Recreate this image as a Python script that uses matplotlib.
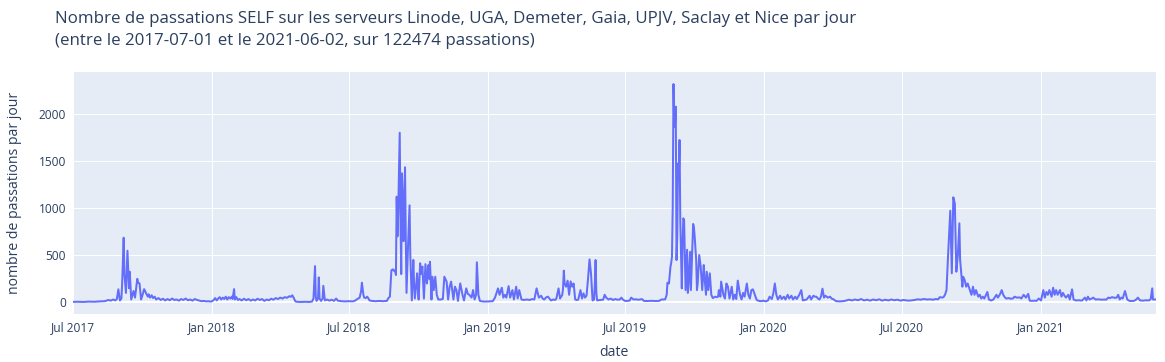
import pandas as pd
import matplotlib
matplotlib.use("Agg")
import matplotlib.pyplot as plt
import matplotlib.dates as mdates

debut = pd.Timestamp("2017-07-01")
fin = pd.Timestamp("2021-06-02")

titre_1 = "Nombre de passations SELF sur les serveurs Linode, UGA, Demeter, Gaia, UPJV, Saclay et Nice par jour"
titre_2 = "(entre le 2017-07-01 et le 2021-06-02, sur 122474 passations)"

# (jours depuis le 2017-07-01, passations)
points_2017_18 = [
    (0, 5), (7, 6), (14, 4), (21, 8), (28, 6), (35, 10), (42, 12), (47, 25), (50, 18),
    (53, 30), (56, 20), (58, 35), (60, 138), (62, 20), (64, 40), (65, 200), (67, 686),
    (68, 300), (70, 100), (72, 548), (74, 150), (75, 325), (77, 30), (78, 60), (80, 120),
    (82, 50), (85, 250), (86, 210), (88, 200), (90, 30), (92, 80), (94, 140), (95, 125),
    (97, 90), (99, 60), (100, 85), (102, 50), (104, 75), (106, 45), (108, 60), (110, 30),
    (113, 45), (116, 25), (119, 38), (122, 20), (125, 35), (128, 22), (131, 40), (134, 25),
    (137, 30), (140, 18), (143, 35), (146, 25), (149, 40), (152, 22), (155, 30), (158, 18),
    (161, 35), (164, 25), (167, 18), (170, 12), (173, 15), (176, 10), (179, 12), (182, 8),
    (184, 12), (186, 25), (188, 45), (190, 20), (192, 40), (194, 55), (196, 30), (198, 50),
    (200, 35), (202, 60), (204, 30), (206, 55), (208, 40), (210, 60), (211, 35), (213, 140),
    (214, 30), (216, 55), (218, 25), (220, 35), (223, 20), (226, 38), (229, 22), (232, 35),
    (235, 18), (238, 30), (241, 20), (244, 38), (247, 25), (250, 35), (253, 15), (256, 30),
    (259, 22), (262, 38), (265, 28), (268, 45), (271, 35), (274, 50), (277, 40), (280, 55),
    (283, 48), (286, 65), (288, 58), (290, 75), (292, 45), (294, 10), (297, 5), (302, 4),
    (307, 6), (312, 4), (316, 8), (318, 40), (320, 385), (321, 60), (322, 15), (324, 40),
    (325, 265), (326, 40), (328, 15), (330, 40), (331, 175), (333, 20), (336, 30), (339, 18),
    (342, 28), (345, 15), (348, 40),
]

points_2018_19 = [
    (350, 18), (355, 12), (360, 10), (365, 12), (370, 10), (373, 18), (376, 35), (379, 50),
    (381, 120), (382, 208), (384, 80), (385, 50), (387, 45), (389, 60), (390, 50), (392, 20),
    (395, 15), (400, 12), (405, 15), (410, 12), (415, 15), (417, 45), (419, 60), (421, 340),
    (423, 350), (425, 330), (426, 340), (427, 290), (428, 1122), (429, 700), (430, 950),
    (432, 1801), (433, 900), (434, 300), (435, 1370), (436, 1100), (437, 650), (438, 1000),
    (439, 1434), (440, 700), (441, 100), (443, 600), (445, 1030), (446, 500), (448, 20),
    (450, 450), (451, 200), (452, 40), (454, 200), (455, 308), (456, 150), (457, 30),
    (459, 415), (460, 300), (462, 380), (463, 200), (464, 40), (466, 405), (467, 300),
    (468, 200), (470, 395), (471, 250), (472, 430), (474, 30), (475, 272), (477, 130),
    (479, 272), (481, 80), (483, 30), (486, 30), (489, 35), (491, 272), (494, 220), (496, 30),
    (498, 166), (500, 220), (503, 30), (505, 166), (507, 130), (509, 15), (512, 201),
    (515, 80), (517, 20), (520, 148), (522, 90), (524, 80), (527, 50), (529, 130), (531, 30),
    (533, 80), (534, 425), (536, 80), (538, 15), (541, 10), (545, 8), (550, 10), (555, 12),
    (558, 50), (562, 148), (564, 80), (567, 155), (569, 50), (571, 80), (573, 50), (576, 172),
    (578, 50), (581, 130), (583, 30), (586, 166), (588, 40), (590, 130), (593, 30), (596, 25),
    (600, 30), (604, 25), (607, 35), (610, 30), (613, 148), (616, 50), (619, 70), (621, 40),
    (623, 30), (626, 55), (628, 60), (632, 20), (635, 30), (637, 25), (639, 35), (642, 148),
    (644, 40), (647, 80), (648, 150), (649, 336), (650, 200), (652, 166), (654, 230),
    (656, 80), (658, 222), (660, 166), (662, 200), (664, 30), (666, 25), (668, 28), (671, 130),
    (673, 40), (675, 95), (677, 50), (679, 70), (681, 250), (683, 456), (685, 300), (687, 20),
    (689, 30), (690, 200), (691, 449), (692, 100), (693, 20), (697, 25), (701, 28), (703, 80),
    (705, 50), (708, 30), (711, 40), (714, 25), (717, 35), (720, 28), (723, 30), (725, 50),
    (727, 30), (730, 15),
]

points_2019_20 = [
    (733, 15), (736, 18), (738, 50), (741, 30), (744, 32), (747, 28), (750, 30), (752, 35),
    (755, 15), (760, 14), (765, 16), (770, 14), (775, 15), (778, 30), (781, 30), (783, 32),
    (785, 80), (786, 208), (788, 200), (790, 378), (791, 420), (792, 484), (793, 1015),
    (794, 2318), (795, 1865), (796, 1900), (797, 2078), (798, 449), (799, 700), (800, 1476),
    (801, 1300), (802, 1724), (803, 868), (805, 148), (806, 600), (807, 892), (808, 875),
    (810, 130), (812, 558), (813, 100), (814, 200), (816, 537), (817, 130), (819, 600),
    (820, 832), (821, 797), (822, 700), (824, 450), (825, 130), (826, 200), (828, 502),
    (830, 378), (832, 130), (834, 396), (835, 272), (837, 80), (838, 325), (840, 130),
    (842, 308), (844, 80), (846, 45), (849, 60), (851, 55), (853, 60), (854, 130), (856, 60),
    (857, 220), (860, 80), (862, 40), (864, 200), (866, 166), (868, 40), (871, 166), (873, 30),
    (875, 80), (877, 35), (879, 230), (882, 80), (884, 30), (886, 100), (888, 60), (891, 200),
    (893, 80), (895, 40), (897, 130), (899, 138), (902, 70), (904, 25), (907, 15), (910, 12),
    (913, 18), (916, 10), (919, 20), (921, 60), (924, 35), (926, 95), (928, 200), (930, 80),
    (932, 30), (935, 70), (937, 35), (940, 60), (942, 30), (945, 80), (947, 40), (950, 70),
    (952, 30), (955, 60), (957, 35), (960, 75), (963, 130), (965, 20), (970, 30), (974, 70),
    (976, 30), (979, 70), (981, 60), (983, 60), (985, 40), (987, 30), (989, 60), (991, 145),
    (993, 50), (995, 70), (998, 50), (1001, 60), (1003, 40), (1005, 35), (1009, 12),
    (1014, 10), (1018, 12), (1022, 18), (1026, 28), (1030, 20), (1034, 30), (1038, 22),
    (1042, 35), (1046, 20), (1050, 28), (1054, 18), (1058, 30), (1062, 22), (1066, 32),
    (1070, 18), (1074, 28), (1078, 20), (1082, 30), (1086, 22), (1090, 28), (1094, 18),
    (1098, 25),
]

points_2020_21 = [
    (1102, 20), (1106, 18), (1110, 22), (1113, 25), (1117, 32), (1121, 28), (1125, 35),
    (1129, 30), (1133, 32), (1137, 28), (1141, 35), (1144, 32), (1146, 55), (1149, 50),
    (1151, 55), (1153, 80), (1155, 130), (1157, 485), (1159, 800), (1160, 973), (1162, 308),
    (1163, 700), (1164, 1115), (1166, 1050), (1168, 325), (1170, 500), (1172, 839),
    (1173, 449), (1176, 166), (1177, 272), (1179, 236), (1181, 166), (1183, 200), (1186, 130),
    (1188, 80), (1190, 166), (1192, 80), (1194, 130), (1197, 60), (1199, 80), (1201, 40),
    (1203, 60), (1205, 40), (1209, 110), (1211, 30), (1214, 20), (1217, 30), (1221, 80),
    (1223, 50), (1226, 90), (1228, 130), (1230, 80), (1232, 55), (1234, 40), (1237, 45),
    (1240, 38), (1243, 42), (1245, 60), (1248, 50), (1252, 52), (1254, 40), (1257, 80),
    (1260, 50), (1263, 90), (1265, 18), (1268, 15), (1271, 18), (1274, 15), (1277, 40),
    (1280, 20), (1283, 130), (1285, 50), (1287, 110), (1289, 80), (1291, 130), (1294, 60),
    (1296, 155), (1298, 80), (1300, 130), (1302, 80), (1305, 130), (1307, 60), (1309, 100),
    (1311, 70), (1313, 50), (1316, 80), (1318, 30), (1321, 138), (1323, 30), (1326, 20),
    (1330, 22), (1334, 18), (1338, 50), (1340, 20), (1342, 60), (1344, 30), (1347, 40),
    (1349, 50), (1352, 30), (1356, 32), (1360, 28), (1364, 30), (1366, 28), (1369, 50),
    (1371, 45), (1374, 55), (1377, 48), (1380, 50), (1382, 80), (1384, 30), (1386, 50),
    (1388, 40), (1391, 120), (1394, 30), (1397, 15), (1400, 14), (1403, 16), (1406, 30),
    (1408, 50), (1411, 20), (1415, 18), (1419, 22), (1423, 20), (1425, 35), (1427, 148),
    (1428, 30), (1432, 30),
]

points = points_2017_18 + points_2018_19 + points_2019_20 + points_2020_21
df = pd.DataFrame(points, columns=["jour", "passations"])
df["date"] = debut + pd.to_timedelta(df["jour"], unit="D")

plt.rcParams["font.family"] = ["Open Sans", "DejaVu Sans"]
texte = "#2a3f5f"

W, H = 1165, 362
fig = plt.figure(figsize=(W / 100, H / 100), dpi=100)
ax = fig.add_axes([73 / W, 1 - 314 / H, (1156 - 73) / W, (314 - 72) / H])
ax.set_facecolor("#E5ECF6")

ax.plot(df["date"], df["passations"], color="#636EFA", lw=1.45, zorder=3)

ax.set_xlim(debut, fin)
ax.set_ylim(-124, 2446)
ax.set_yticks(range(0, 2001, 500))
ax.xaxis.set_major_locator(mdates.MonthLocator(bymonth=[1, 7]))
ax.xaxis.set_major_formatter(mdates.DateFormatter("%b %Y"))

ax.set_axisbelow(True)
ax.grid(color="white", lw=0.75)
ax.axhline(0, color="white", lw=1.5, zorder=1.5)
for s in ax.spines.values():
    s.set_visible(False)
ax.tick_params(length=0, labelsize=8.6, labelcolor=texte)
ax.tick_params(axis="x", pad=5)
ax.tick_params(axis="y", pad=5)

fig.text(614 / W, 1 - 352 / H, "date", ha="center", va="center", fontsize=10.1, color=texte)
fig.text(15 / W, 1 - 193 / H, "nombre de passations par jour", ha="center", va="center",
         rotation=90, fontsize=10.1, color=texte)
fig.text(55 / W, 1 - 23 / H, titre_1, ha="left", va="baseline", fontsize=12.2, color=texte)
fig.text(55 / W, 1 - 45 / H, titre_2, ha="left", va="baseline", fontsize=12.2, color=texte)

fig.savefig("out.png", dpi=100)
